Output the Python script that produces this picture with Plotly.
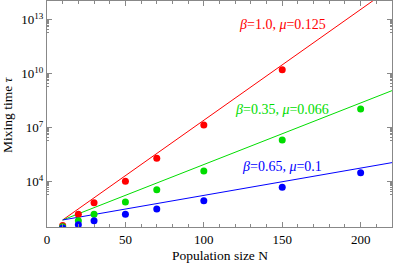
import math
import plotly.graph_objects as go

# Data (log10 of mixing time)
N_red = [10, 20, 30, 50, 70, 100, 150]
tau_red = [10**1.58, 10**2.20, 10**2.85, 10**4.04, 10**5.31, 10**7.16, 10**10.22]
N_green = [10, 20, 30, 50, 70, 100, 150, 200]
tau_green = [10**1.52, 10**1.85, 10**2.20, 10**2.89, 10**3.57, 10**4.60, 10**6.33, 10**8.04]
N_blue = [10, 20, 30, 50, 70, 100, 150, 200]
tau_blue = [10**1.45, 10**1.63, 10**1.85, 10**2.20, 10**2.50, 10**2.96, 10**3.71, 10**4.51]

# Fitted lines (endpoints)
fit_N = [10, 220]
fit_red = [10**1.89, 10**14.79]
fit_green = [10**1.89, 10**9.06]
fit_blue = [10**1.89, 10**5.07]

x_ticks = [0, 50, 100, 150, 200]
y_tick_exps = [4, 7, 10, 13]
y_ticks = [10**e for e in y_tick_exps]
y_ticktext = ["10<sup>%d</sup>" % e for e in y_tick_exps]

labels = ["β=1.0, μ=0.125", "β=0.35, μ=0.066", "β=0.65, μ=0.1"]
label_N = [150, 150, 150]
label_tau = [10**12.74, 10**8.04, 10**4.87]

RED = "#FF0000"
GREEN = "#00DD00"
BLUE = "#0000FF"
colors = [RED, GREEN, BLUE]
SERIF = "Liberation Serif"

fig = go.Figure()
for fy, c in [(fit_red, RED), (fit_green, GREEN), (fit_blue, BLUE)]:
    fig.add_trace(go.Scatter(x=fit_N, y=fy, mode="lines",
                             line=dict(color=c, width=1), showlegend=False))
for xs, ys, c in [(N_red, tau_red, RED), (N_green, tau_green, GREEN), (N_blue, tau_blue, BLUE)]:
    fig.add_trace(go.Scatter(x=xs, y=ys, mode="markers",
                             marker=dict(color=c, size=7), showlegend=False))

def italicize(s):
    return s.replace("β", "<i>β</i>").replace("μ", "<i>μ</i>")

for t, xv, yv, c in zip(labels, label_N, label_tau, colors):
    # annotations on a log axis are positioned in log10 units
    fig.add_annotation(x=xv, y=math.log10(yv), yref="y", text=italicize(t), showarrow=False,
                       xanchor="center", yanchor="middle",
                       font=dict(color=c, size=14, family=SERIF))

fig.add_annotation(x=0.5, y=-0.128, xref="paper", yref="paper", text="Population size N",
                   xanchor="center", yanchor="middle",
                   showarrow=False, font=dict(size=13.5, color="black", family=SERIF))
fig.add_annotation(x=-0.113, y=0.496, xref="paper", yref="paper", text="Mixing time <i>τ</i>",
                   xanchor="center", yanchor="middle",
                   textangle=-90, showarrow=False,
                   font=dict(size=13.5, color="black", family=SERIF))

minor_y = [k * 10**(e - 1) for e in y_tick_exps for k in range(2, 10)]

fig.update_layout(
    width=395, height=264,
    margin=dict(l=47, r=3, t=1, b=37),
    paper_bgcolor="white", plot_bgcolor="white",
    font=dict(family=SERIF, size=13, color="black"),
    xaxis=dict(range=[0, 220], tickmode="array", tickvals=x_ticks,
               ticks="inside", ticklen=5, tickcolor="#888", showline=True, linecolor="#888",
               linewidth=1, mirror="ticks", showgrid=False, zeroline=False, automargin=False,
               tickfont=dict(family=SERIF, size=13, color="black"),
               minor=dict(dtick=10, ticks="inside", ticklen=3, tickcolor="#888", showgrid=False)),
    yaxis=dict(type="log", range=[1.5, 14.03], tickmode="array", tickvals=y_ticks,
               ticktext=y_ticktext, ticks="inside", ticklen=5, tickcolor="#888",
               showline=True, linecolor="#888", linewidth=1, mirror="ticks",
               showgrid=False, zeroline=False, automargin=False,
               tickfont=dict(family=SERIF, size=13, color="black"),
               minor=dict(tickmode="array", tickvals=minor_y, ticks="inside", ticklen=2,
                          tickcolor="#888", showgrid=False)),
)

fig.write_html("out.html", config={"displayModeBar": False},
               post_script="document.body.style.margin='0';")
